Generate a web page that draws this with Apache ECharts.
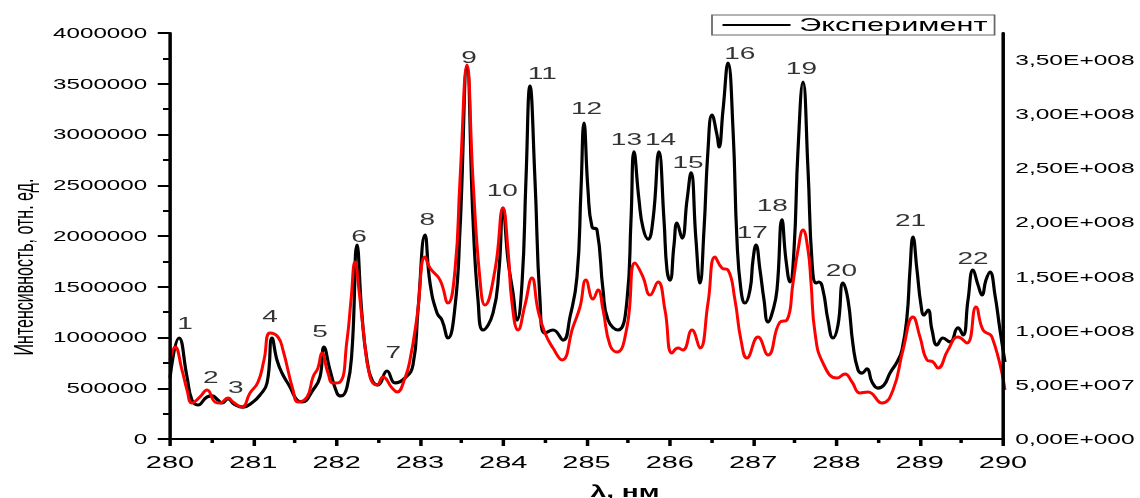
<!DOCTYPE html>
<html>
<head>
<meta charset="utf-8">
<script src="https://cdn.jsdelivr.net/npm/echarts@6/dist/echarts.min.js"></script>
<style>
  html, body { margin: 0; padding: 0; background: #fff; }
  #wrap { position: relative; width: 1140px; height: 498px; overflow: hidden; }
  #curves { position: absolute; left: 0; top: 0; width: 1140px; height: 498px; }
  /* axes and text are drawn on a narrower page and stretched sideways, like the original figure */
  #frame { position: absolute; left: 0; top: 0; width: 650px; height: 498px; transform-origin: 0 0; }
</style>
</head>
<body>
<div id="wrap"><div id="curves"></div><div id="frame"></div></div>
<script>
// эксперимент (левая ось)
const expWl = [
  280.000, 280.108, 280.204, 280.263, 280.335, 280.443, 280.503, 280.575, 280.623, 280.695,
  280.766, 280.874, 280.994, 281.078, 281.162, 281.222, 281.281, 281.341, 281.437, 281.521,
  281.581, 281.713, 281.796, 281.844, 281.916, 282.000, 282.048, 282.120, 282.180, 282.240,
  282.299, 282.359, 282.431, 282.491, 282.599, 282.695, 282.814, 282.910, 282.970, 283.054,
  283.114, 283.198, 283.257, 283.329, 283.413, 283.473, 283.557, 283.629, 283.689, 283.749,
  283.868, 283.940, 283.988, 284.048, 284.108, 284.156, 284.216, 284.263, 284.311, 284.371,
  284.431, 284.491, 284.587, 284.707, 284.790, 284.874, 284.922, 284.958, 285.006, 285.054,
  285.114, 285.186, 285.246, 285.365, 285.473, 285.521, 285.557, 285.617, 285.665, 285.725,
  285.784, 285.856, 285.916, 285.952, 285.988, 286.036, 286.072, 286.132, 286.192, 286.240,
  286.299, 286.347, 286.395, 286.443, 286.491, 286.551, 286.575, 286.623, 286.683, 286.743,
  286.790, 286.838, 286.886, 286.946, 286.982, 287.018, 287.066, 287.114, 287.162, 287.222,
  287.269, 287.329, 287.377, 287.425, 287.473, 287.521, 287.581, 287.641, 287.689, 287.737,
  287.772, 287.820, 287.880, 287.940, 288.000, 288.060, 288.120, 288.180, 288.240, 288.287,
  288.347, 288.407, 288.479, 288.551, 288.623, 288.707, 288.766, 288.826, 288.862, 288.898,
  288.946, 288.994, 289.030, 289.078, 289.126, 289.186, 289.257, 289.341, 289.437, 289.497,
  289.557, 289.617, 289.677, 289.725, 289.772, 289.820, 289.880, 289.940, 290.000
];
const expVal = [
  601000, 995000, 611000, 384000, 335000, 414000, 424000, 384000, 355000, 394000,
  345000, 315000, 365000, 433000, 552000, 995000, 778000, 650000, 512000, 384000,
  365000, 483000, 611000, 906000, 680000, 453000, 424000, 512000, 877000, 1911000,
  1222000, 778000, 562000, 532000, 670000, 552000, 601000, 729000, 1271000, 2010000,
  1537000, 1241000, 1172000, 995000, 1300000, 2059000, 3655000, 2158000, 1369000, 1074000,
  1241000, 1665000, 2276000, 1764000, 1438000, 1172000, 1537000, 2552000, 3478000, 2552000,
  1369000, 1044000, 1074000, 975000, 1202000, 1596000, 2453000, 3113000, 2453000, 2089000,
  2059000, 1468000, 1172000, 1074000, 1369000, 2158000, 2828000, 2355000, 2079000, 1970000,
  2158000, 2828000, 2158000, 1665000, 1566000, 1911000, 2128000, 1980000, 2355000, 2621000,
  1961000, 1537000, 2059000, 2847000, 3192000, 2995000, 2877000, 3241000, 3704000, 3044000,
  1961000, 1468000, 1340000, 1468000, 1764000, 1911000, 1665000, 1369000, 1153000, 1271000,
  1468000, 2158000, 1764000, 1547000, 1862000, 2847000, 3517000, 2650000, 1744000, 1537000,
  1547000, 1468000, 1172000, 995000, 1123000, 1537000, 1369000, 926000, 680000, 650000,
  690000, 562000, 502000, 532000, 650000, 759000, 877000, 1202000, 1665000, 1990000,
  1665000, 1320000, 1222000, 1271000, 1074000, 926000, 995000, 956000, 1094000, 1025000,
  1369000, 1665000, 1517000, 1419000, 1566000, 1645000, 1419000, 1074000, 759000
];

// расчёт (правая ось)
const calcWl = [
  280.000, 280.060, 280.144, 280.204, 280.263, 280.359, 280.443, 280.539, 280.599, 280.695,
  280.754, 280.862, 280.958, 281.054, 281.126, 281.198, 281.293, 281.353, 281.473, 281.533,
  281.641, 281.713, 281.772, 281.820, 281.892, 281.952, 282.036, 282.120, 282.168, 282.216,
  282.263, 282.311, 282.395, 282.479, 282.551, 282.659, 282.719, 282.814, 282.874, 282.958,
  283.054, 283.114, 283.234, 283.329, 283.413, 283.473, 283.557, 283.629, 283.713, 283.772,
  283.892, 283.988, 284.048, 284.096, 284.168, 284.251, 284.335, 284.407, 284.491, 284.587,
  284.695, 284.826, 284.910, 284.982, 285.066, 285.126, 285.186, 285.269, 285.353, 285.473,
  285.569, 285.665, 285.749, 285.844, 285.928, 286.012, 286.084, 286.144, 286.251, 286.347,
  286.443, 286.527, 286.611, 286.683, 286.766, 286.838, 286.910, 287.042, 287.162, 287.305,
  287.389, 287.461, 287.521, 287.581, 287.641, 287.677, 287.725, 287.820, 287.988, 288.084,
  288.168, 288.263, 288.359, 288.527, 288.659, 288.778, 288.898, 288.982, 289.066, 289.138,
  289.198, 289.317, 289.437, 289.545, 289.653, 289.737, 289.844, 290.000
];
const calcVal = [
  73.0e6, 85.0e6, 63.7e6, 45.3e6, 33.2e6, 38.8e6, 45.3e6, 34.2e6, 33.2e6, 37.9e6,
  34.2e6, 29.6e6, 42.5e6, 52.6e6, 73.0e6, 97.9e6, 94.2e6, 82.2e6, 45.3e6, 34.2e6,
  38.8e6, 57.3e6, 65.6e6, 79.4e6, 60.9e6, 51.7e6, 52.6e6, 91.4e6, 128.4e6, 163.5e6,
  137.6e6, 103.4e6, 57.3e6, 49.9e6, 57.3e6, 47.1e6, 43.4e6, 56.3e6, 73.0e6, 112.7e6,
  168.1e6, 157.9e6, 146.8e6, 125.6e6, 156.1e6, 239.2e6, 345.4e6, 239.2e6, 146.8e6, 123.7e6,
  156.1e6, 213.3e6, 174.5e6, 125.6e6, 100.7e6, 123.7e6, 148.7e6, 119.1e6, 97.9e6, 84.0e6,
  73.0e6, 103.4e6, 121.9e6, 146.8e6, 129.3e6, 137.6e6, 119.1e6, 86.8e6, 80.3e6, 103.4e6,
  162.5e6, 149.6e6, 133.0e6, 145.0e6, 119.1e6, 79.4e6, 84.0e6, 82.2e6, 100.7e6, 84.0e6,
  125.6e6, 168.1e6, 157.9e6, 156.1e6, 128.4e6, 91.4e6, 74.8e6, 94.2e6, 77.6e6, 108.0e6,
  109.9e6, 144.1e6, 174.5e6, 193.0e6, 174.5e6, 144.1e6, 97.9e6, 70.2e6, 56.3e6, 60.0e6,
  52.6e6, 42.5e6, 43.4e6, 33.2e6, 45.3e6, 82.2e6, 112.7e6, 94.2e6, 73.0e6, 71.1e6,
  65.6e6, 82.2e6, 94.2e6, 88.7e6, 121.9e6, 100.7e6, 94.2e6, 45.3e6
];

// номера линий
const peakNames = ['1', '2', '3', '4', '5', '6', '7', '8', '9', '10', '11',
  '12', '13', '14', '15', '16', '17', '18', '19', '20', '21', '22'];
const peakWl = [280.18, 280.49, 280.79, 281.20, 281.80, 282.27, 282.68, 283.09, 283.59, 283.99, 284.47,
  285.00, 285.48, 285.89, 286.22, 286.84, 286.99, 287.23, 287.58, 288.06, 288.89, 289.64];
const peakVal = [1143000, 611000, 512000, 1212000, 1064000, 2000000, 857000, 2167000, 3763000, 2453000, 3606000,
  3261000, 2956000, 2956000, 2729000, 3803000, 2039000, 2305000, 3655000, 1665000, 2158000, 1783000];

const X_MIN = 280, X_MAX = 290, X_STEP = 1;
const L_MAX = 4000000, L_STEP = 500000;
const R_MAX = 3.75e8, R_STEP = 5e7, R_LAST = 3.5e8;

const W = 1140, H = 498;
const FRAME_W = 650;
const S = W / FRAME_W;
const PLOT = { left: 170, right: 1005, top: 33, bottom: 439 };
const FONT = 'Liberation Sans';
const INK = '#000';

document.getElementById('frame').style.transform = 'scaleX(' + S + ')';

function pairs(xs, ys) {
  return xs.map((x, i) => [x, ys[i]]);
}

// 3,50E+008
function sci(v) {
  if (v > R_LAST + 1) return '';
  if (v === 0) return '0,00E+000';
  const e = Math.floor(Math.log10(v) + 1e-9);
  const m = v / Math.pow(10, e);
  return m.toFixed(2).replace('.', ',') + 'E+' + String(e).padStart(3, '0');
}

// кривые: рисуются без растяжения
const curves = echarts.init(document.getElementById('curves'));
curves.setOption({
  animation: false,
  backgroundColor: '#fff',
  grid: { left: PLOT.left, right: W - PLOT.right, top: PLOT.top, bottom: H - PLOT.bottom },
  xAxis: { type: 'value', min: X_MIN, max: X_MAX, show: false },
  yAxis: [
    { type: 'value', min: 0, max: L_MAX, show: false },
    { type: 'value', min: 0, max: R_MAX, show: false }
  ],
  series: [{
    name: 'Эксперимент',
    type: 'line',
    yAxisIndex: 0,
    data: pairs(expWl, expVal),
    symbol: 'none',
    smooth: 0.5,
    lineStyle: { color: '#000', width: 3.2 },
    z: 2
  }, {
    name: 'Расчёт',
    type: 'line',
    yAxisIndex: 1,
    data: pairs(calcWl, calcVal),
    symbol: 'none',
    smooth: 0.5,
    lineStyle: { color: '#ff0000', width: 3 },
    z: 3
  }]
});

// оси, подписи, легенда
const frame = echarts.init(document.getElementById('frame'), null, { renderer: 'svg' });
const axisLine = { show: true, lineStyle: { color: '#000', width: 2 } };
frame.setOption({
  animation: false,
  grid: {
    left: PLOT.left / S,
    right: (W - PLOT.right) / S,
    top: PLOT.top,
    bottom: H - PLOT.bottom
  },
  legend: {
    data: ['Эксперимент'],
    left: 712 / S,
    top: 15,
    padding: [1, 4, 1, 6],
    borderColor: '#666',
    borderWidth: 1,
    icon: 'rect',
    itemWidth: 68 / S,
    itemHeight: 2,
    selectedMode: false,
    textStyle: { fontSize: 17.5, color: INK, fontFamily: FONT }
  },
  xAxis: {
    type: 'value',
    min: X_MIN,
    max: X_MAX,
    interval: X_STEP,
    axisLine: axisLine,
    axisTick: { show: true, length: 7, lineStyle: { color: '#000', width: 2 } },
    minorTick: { show: true, splitNumber: 2, length: 4, lineStyle: { color: '#000', width: 2 } },
    splitLine: { show: false },
    axisLabel: { fontSize: 16.5, margin: 15, color: INK, fontFamily: FONT }
  },
  yAxis: [{
    type: 'value',
    min: 0,
    max: L_MAX,
    interval: L_STEP,
    axisLine: axisLine,
    axisTick: { show: true, length: 7, lineStyle: { color: '#000', width: 2 } },
    minorTick: { show: true, splitNumber: 2, length: 4, lineStyle: { color: '#000', width: 2 } },
    splitLine: { show: false },
    axisLabel: { fontSize: 13.8, margin: 13, color: INK, fontFamily: FONT, formatter: v => String(v) }
  }, {
    type: 'value',
    position: 'right',
    min: 0,
    max: R_MAX,
    interval: R_STEP,
    axisLine: axisLine,
    axisTick: { show: false },
    splitLine: { show: false },
    axisLabel: { fontSize: 14, margin: 7, color: INK, fontFamily: FONT, formatter: sci }
  }],
  graphic: [{
    type: 'text',
    x: 23 / S,
    y: 267,
    rotation: Math.PI / 2,
    style: {
      text: 'Интенсивность, отн. ед.',
      fill: INK,
      fontSize: 16,
      fontFamily: FONT,
      align: 'center',
      verticalAlign: 'middle'
    }
  }, {
    type: 'text',
    x: 625 / S,
    y: 491,
    style: {
      text: 'λ, нм',
      fill: INK,
      fontSize: 16,
      fontWeight: 'bold',
      fontFamily: FONT,
      align: 'center',
      verticalAlign: 'middle'
    }
  }],
  series: [{
    name: 'Эксперимент',
    type: 'line',
    data: [],
    color: '#000'
  }, {
    name: 'Номера',
    type: 'scatter',
    yAxisIndex: 0,
    symbolSize: 1,
    silent: true,
    itemStyle: { color: 'rgba(0,0,0,0)' },
    label: {
      show: true,
      position: 'inside',
      formatter: '{b}',
      fontSize: 16,
      color: INK,
      fontFamily: FONT
    },
    data: peakWl.map((x, i) => ({ name: peakNames[i], value: [x, peakVal[i]] }))
  }]
});
</script>
</body>
</html>
